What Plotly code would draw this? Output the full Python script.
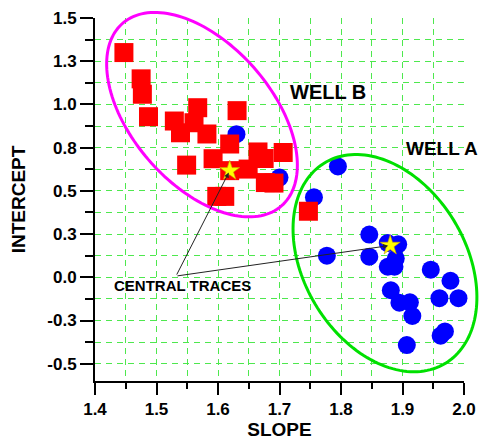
import numpy as np
import plotly.graph_objects as go

# ---------------- data ----------------
# Well B traces (red squares)
well_b_slope = [1.447, 1.475, 1.477, 1.487, 1.529, 1.567, 1.561, 1.539, 1.582, 1.631,
                1.619, 1.592, 1.549, 1.619, 1.665, 1.706, 1.675, 1.649, 1.677, 1.691,
                1.598, 1.611, 1.747]
well_b_intercept = [1.300, 1.148, 1.059, 0.929, 0.904, 0.981, 0.894, 0.836, 0.829, 0.964,
                    0.771, 0.686, 0.649, 0.617, 0.725, 0.722, 0.687, 0.626, 0.548, 0.545,
                    0.468, 0.468, 0.382]

# Well A traces (blue circles)
well_a_slope = [1.630, 1.700, 1.795, 1.756, 1.777, 1.846, 1.876, 1.893, 1.846, 1.889,
                1.876, 1.887, 1.946, 1.978, 1.881, 1.960, 1.991, 1.895, 1.912, 1.916,
                1.962, 1.969, 1.907]
well_a_intercept = [0.828, 0.577, 0.641, 0.463, 0.125, 0.247, 0.198, 0.191, 0.119, 0.108,
                    0.061, 0.061, 0.044, -0.020, -0.075, -0.121, -0.121, -0.147, -0.145, -0.224,
                    -0.338, -0.313, -0.392]

# Central traces (stars): [Well A, Well B]
central_slope = [1.880, 1.619]
central_intercept = [0.184, 0.616]

# Axis ticks
x_ticks = [1.4, 1.5, 1.6, 1.7, 1.8, 1.9, 2.0]
x_labels = ["1.4", "1.5", "1.6", "1.7", "1.8", "1.9", "2.0"]
y_ticks = [-0.5, -0.25, 0.0, 0.25, 0.5, 0.75, 1.0, 1.25, 1.5]
y_labels = ["-0.5", "-0.3", "0.0", "0.3", "0.5", "0.8", "1.0", "1.3", "1.5"]

# ---------------- layout constants ----------------
# (the page body adds an 8px offset, so the figure is 8px smaller than the window)
W, H = 482, 432
ML, MR, MT, MB = 87, 26, 10, 59
PW, PH = W - ML - MR, H - MT - MB
XR = (1.4, 2.0)
YR = (-0.6, 1.5)

FONT = "Liberation Sans, Arial, sans-serif"
GRID = "#4ee84e"


def ellipse_path(cx, cy, a_px, b_px, ang_deg, n=160):
    """Ellipse centred at data (cx, cy); semi-axes in screen px, angle clockwise on screen."""
    px0 = (cx - XR[0]) / (XR[1] - XR[0])
    py0 = (cy - YR[0]) / (YR[1] - YR[0])
    t = np.linspace(0, 2 * np.pi, n)
    th = np.radians(ang_deg)
    dx = a_px * np.cos(t) * np.cos(th) - b_px * np.sin(t) * np.sin(th)
    dy = a_px * np.cos(t) * np.sin(th) + b_px * np.sin(t) * np.cos(th)
    px = px0 + dx / PW
    py = py0 - dy / PH
    return "M " + " L ".join(f"{x:.5f},{y:.5f}" for x, y in zip(px, py)) + " Z"


fig = go.Figure()

fig.add_trace(go.Scatter(
    x=well_a_slope, y=well_a_intercept, mode="markers", name="Well A",
    marker=dict(symbol="circle", size=18, color="#0000ff", line=dict(width=0)),
    cliponaxis=False,
))
fig.add_trace(go.Scatter(
    x=well_b_slope, y=well_b_intercept, mode="markers", name="Well B",
    marker=dict(symbol="square", size=19, color="#ff0000", line=dict(width=0)),
    cliponaxis=False,
))
fig.add_trace(go.Scatter(
    x=central_slope, y=central_intercept, mode="markers", name="Central traces",
    marker=dict(symbol="star", size=15, color="#ffff00", line=dict(width=0.6, color="#c8a000")),
    cliponaxis=False,
))

# ellipses
fig.add_shape(type="path", xref="paper", yref="paper",
              path=ellipse_path(1.574, 0.941, 121, 70, 49),
              line=dict(color="#ff00ff", width=3), layer="above")
fig.add_shape(type="path", xref="paper", yref="paper",
              path=ellipse_path(1.8715, 0.082, 117, 81, 59),
              line=dict(color="#00e000", width=3), layer="above")

# labels
fig.add_annotation(x=1.779, y=1.073, text="WELL B", showarrow=False,
                   font=dict(family=FONT, size=20, color="black", weight="bold"))
fig.add_annotation(x=1.965, y=0.747, text="WELL A", showarrow=False,
                   font=dict(family=FONT, size=19, color="black", weight="bold"))
fig.add_annotation(x=1.543, y=-0.048, text="CENTRAL TRACES", showarrow=False,
                   font=dict(family=FONT, size=15, color="black", weight="bold"))

tail_x, tail_y = 1.5317, 0.007
for sx, sy in zip(central_slope, central_intercept):
    fig.add_annotation(x=sx, y=sy, ax=tail_x, ay=tail_y, axref="x", ayref="y",
                       text="", showarrow=True, arrowhead=2, arrowsize=1,
                       arrowwidth=1, arrowcolor="#222222", standoff=2)

axis_common = dict(
    showline=True, linewidth=2, linecolor="black",
    ticks="outside", tickwidth=2, tickcolor="black",
    showgrid=True, gridcolor=GRID, gridwidth=1, griddash="6px,5px",
    zeroline=False, mirror=False,
    tickfont=dict(family=FONT, size=17, color="black", weight="bold"),
)

fig.update_xaxes(
    range=list(XR), tickmode="array", tickvals=x_ticks, ticktext=x_labels,
    ticklen=12,
    minor=dict(tickmode="linear", tick0=1.4, dtick=0.05, ticks="outside", ticklen=6,
               tickwidth=2, tickcolor="black", showgrid=True, gridcolor=GRID,
               gridwidth=1, griddash="6px,5px"),
    title=dict(text="SLOPE", standoff=5,
               font=dict(family=FONT, size=19, color="black", weight="bold")),
    **axis_common,
)
fig.update_yaxes(
    range=list(YR), tickmode="array", tickvals=y_ticks, ticktext=y_labels,
    ticklen=13,
    minor=dict(tickmode="linear", tick0=0, dtick=0.125, ticks="outside", ticklen=8,
               tickwidth=2, tickcolor="black", showgrid=True, gridcolor=GRID,
               gridwidth=1, griddash="6px,5px"),
    title=dict(text="INTERCEPT", standoff=18,
               font=dict(family=FONT, size=19, color="black", weight="bold")),
    **axis_common,
)

fig.update_layout(
    width=W, height=H,
    margin=dict(l=ML, r=MR, t=MT, b=MB, autoexpand=False),
    paper_bgcolor="white", plot_bgcolor="white",
    showlegend=False,
)

fig.write_html("out.html")
